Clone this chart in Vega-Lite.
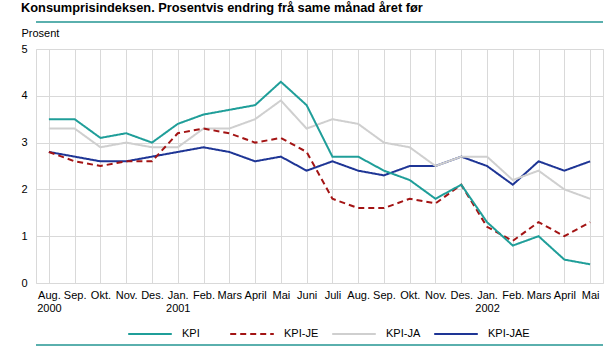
{
  "$schema": "https://vega.github.io/schema/vega-lite/v6.json",
  "width": 567,
  "height": 234,
  "autosize": {"type": "none"},
  "padding": {"left": 36, "top": 49, "right": 11, "bottom": 64},
  "title": {
    "text": "Konsumprisindeksen. Prosentvis endring frå same månad året før",
    "anchor": "start",
    "frame": "group",
    "dx": -15,
    "fontSize": 12.8,
    "fontWeight": "bold",
    "font": "Liberation Sans",
    "color": "#000000",
    "offset": 6
  },
  "data": {
    "values": [
      {"m":"2000-08","s":"KPI-JAE","v":2.8},{"m":"2000-09","s":"KPI-JAE","v":2.7},{"m":"2000-10","s":"KPI-JAE","v":2.6},{"m":"2000-11","s":"KPI-JAE","v":2.6},{"m":"2000-12","s":"KPI-JAE","v":2.7},{"m":"2001-01","s":"KPI-JAE","v":2.8},{"m":"2001-02","s":"KPI-JAE","v":2.9},{"m":"2001-03","s":"KPI-JAE","v":2.8},{"m":"2001-04","s":"KPI-JAE","v":2.6},{"m":"2001-05","s":"KPI-JAE","v":2.7},{"m":"2001-06","s":"KPI-JAE","v":2.4},{"m":"2001-07","s":"KPI-JAE","v":2.6},{"m":"2001-08","s":"KPI-JAE","v":2.4},{"m":"2001-09","s":"KPI-JAE","v":2.3},{"m":"2001-10","s":"KPI-JAE","v":2.5},{"m":"2001-11","s":"KPI-JAE","v":2.5},{"m":"2001-12","s":"KPI-JAE","v":2.7},{"m":"2002-01","s":"KPI-JAE","v":2.5},{"m":"2002-02","s":"KPI-JAE","v":2.1},{"m":"2002-03","s":"KPI-JAE","v":2.6},{"m":"2002-04","s":"KPI-JAE","v":2.4},{"m":"2002-05","s":"KPI-JAE","v":2.6},
      {"m":"2000-08","s":"KPI-JA","v":3.3},{"m":"2000-09","s":"KPI-JA","v":3.3},{"m":"2000-10","s":"KPI-JA","v":2.9},{"m":"2000-11","s":"KPI-JA","v":3.0},{"m":"2000-12","s":"KPI-JA","v":2.9},{"m":"2001-01","s":"KPI-JA","v":2.9},{"m":"2001-02","s":"KPI-JA","v":3.3},{"m":"2001-03","s":"KPI-JA","v":3.3},{"m":"2001-04","s":"KPI-JA","v":3.5},{"m":"2001-05","s":"KPI-JA","v":3.9},{"m":"2001-06","s":"KPI-JA","v":3.3},{"m":"2001-07","s":"KPI-JA","v":3.5},{"m":"2001-08","s":"KPI-JA","v":3.4},{"m":"2001-09","s":"KPI-JA","v":3.0},{"m":"2001-10","s":"KPI-JA","v":2.9},{"m":"2001-11","s":"KPI-JA","v":2.5},{"m":"2001-12","s":"KPI-JA","v":2.7},{"m":"2002-01","s":"KPI-JA","v":2.7},{"m":"2002-02","s":"KPI-JA","v":2.2},{"m":"2002-03","s":"KPI-JA","v":2.4},{"m":"2002-04","s":"KPI-JA","v":2.0},{"m":"2002-05","s":"KPI-JA","v":1.8},
      {"m":"2000-08","s":"KPI-JE","v":2.8},{"m":"2000-09","s":"KPI-JE","v":2.6},{"m":"2000-10","s":"KPI-JE","v":2.5},{"m":"2000-11","s":"KPI-JE","v":2.6},{"m":"2000-12","s":"KPI-JE","v":2.6},{"m":"2001-01","s":"KPI-JE","v":3.2},{"m":"2001-02","s":"KPI-JE","v":3.3},{"m":"2001-03","s":"KPI-JE","v":3.2},{"m":"2001-04","s":"KPI-JE","v":3.0},{"m":"2001-05","s":"KPI-JE","v":3.1},{"m":"2001-06","s":"KPI-JE","v":2.8},{"m":"2001-07","s":"KPI-JE","v":1.8},{"m":"2001-08","s":"KPI-JE","v":1.6},{"m":"2001-09","s":"KPI-JE","v":1.6},{"m":"2001-10","s":"KPI-JE","v":1.8},{"m":"2001-11","s":"KPI-JE","v":1.7},{"m":"2001-12","s":"KPI-JE","v":2.1},{"m":"2002-01","s":"KPI-JE","v":1.2},{"m":"2002-02","s":"KPI-JE","v":0.9},{"m":"2002-03","s":"KPI-JE","v":1.3},{"m":"2002-04","s":"KPI-JE","v":1.0},{"m":"2002-05","s":"KPI-JE","v":1.3},
      {"m":"2000-08","s":"KPI","v":3.5},{"m":"2000-09","s":"KPI","v":3.5},{"m":"2000-10","s":"KPI","v":3.1},{"m":"2000-11","s":"KPI","v":3.2},{"m":"2000-12","s":"KPI","v":3.0},{"m":"2001-01","s":"KPI","v":3.4},{"m":"2001-02","s":"KPI","v":3.6},{"m":"2001-03","s":"KPI","v":3.7},{"m":"2001-04","s":"KPI","v":3.8},{"m":"2001-05","s":"KPI","v":4.3},{"m":"2001-06","s":"KPI","v":3.8},{"m":"2001-07","s":"KPI","v":2.7},{"m":"2001-08","s":"KPI","v":2.7},{"m":"2001-09","s":"KPI","v":2.4},{"m":"2001-10","s":"KPI","v":2.2},{"m":"2001-11","s":"KPI","v":1.8},{"m":"2001-12","s":"KPI","v":2.1},{"m":"2002-01","s":"KPI","v":1.3},{"m":"2002-02","s":"KPI","v":0.8},{"m":"2002-03","s":"KPI","v":1.0},{"m":"2002-04","s":"KPI","v":0.5},{"m":"2002-05","s":"KPI","v":0.4}
    ]
  },
  "resolve": {"axis": {"y": "independent"}},
  "layer": [
    {
      "mark": {"type": "line", "strokeWidth": 2},
      "encoding": {
        "x": {
          "field": "m",
          "type": "ordinal",
          "sort": null,
          "scale": {"type": "point", "padding": 0.5},
          "axis": {
            "title": null,
            "domain": false,
            "ticks": false,
            "grid": true,
            "labelAngle": 0,
            "labelPadding": 6,
            "labelLineHeight": 13,
            "labelBaseline": "top",
            "labelExpr": "[['Jan.','Feb.','Mars','April','Mai','Juni','Juli','Aug.','Sep.','Okt.','Nov.','Des.'][toNumber(slice(datum.value,5,7))-1], (datum.value=='2000-08' || slice(datum.value,5,7)=='01') ? slice(datum.value,0,4) : '']"
          }
        },
        "y": {
          "field": "v",
          "type": "quantitative",
          "scale": {"domain": [0, 5], "nice": false, "zero": true},
          "axis": {
            "orient": "left",
            "title": "Prosent",
            "titleAngle": 0,
            "titleAlign": "left",
            "titleBaseline": "bottom",
            "titleX": -15,
            "titleY": -11,
            "titleFontWeight": "normal",
            "titleFontSize": 11,
            "values": [0, 1, 2, 3, 4, 5],
            "labelOverlap": false,
            "domain": false,
            "ticks": false,
            "grid": true,
            "labelAlign": "left",
            "labelPadding": 15
          }
        },
        "color": {
          "field": "s",
          "type": "nominal",
          "scale": {
            "domain": ["KPI", "KPI-JE", "KPI-JA", "KPI-JAE"],
            "range": ["#1f9e99", "#a31414", "#cfcfcf", "#1e3595"]
          },
          "legend": {
            "title": null,
            "orient": "none",
            "legendX": 91,
            "legendY": 262,
            "direction": "horizontal",
            "columns": 4,
            "gridAlign": "all",
            "columnPadding": 2,
            "symbolType": "stroke",
            "symbolSize": 1900,
            "symbolStrokeWidth": 2,
            "labelOffset": 9,
            "labelFontSize": 11
          }
        },
        "strokeDash": {
          "field": "s",
          "type": "nominal",
          "scale": {
            "domain": ["KPI", "KPI-JE", "KPI-JA", "KPI-JAE"],
            "range": [[1, 0], [6, 4], [1, 0], [1, 0]]
          },
          "legend": null
        }
      }
    },
    {
      "mark": {"type": "rule", "color": "#5aafad", "strokeWidth": 1.5},
      "encoding": {"y": {"datum": 5.583, "type": "quantitative", "axis": null}}
    },
    {
      "mark": {"type": "rule", "color": "#5aafad", "strokeWidth": 1.5},
      "encoding": {"y": {"datum": -1.33, "type": "quantitative", "axis": null}}
    }
  ],
  "config": {
    "font": "Liberation Sans",
    "view": {"stroke": "#d9d9d9", "strokeWidth": 1},
    "axis": {
      "gridColor": "#d9d9d9",
      "gridWidth": 1,
      "labelColor": "#000000",
      "labelFontSize": 11,
      "titleColor": "#000000",
      "labelFont": "Liberation Sans",
      "titleFont": "Liberation Sans"
    },
    "legend": {"labelColor": "#000000", "labelFont": "Liberation Sans"}
  }
}
